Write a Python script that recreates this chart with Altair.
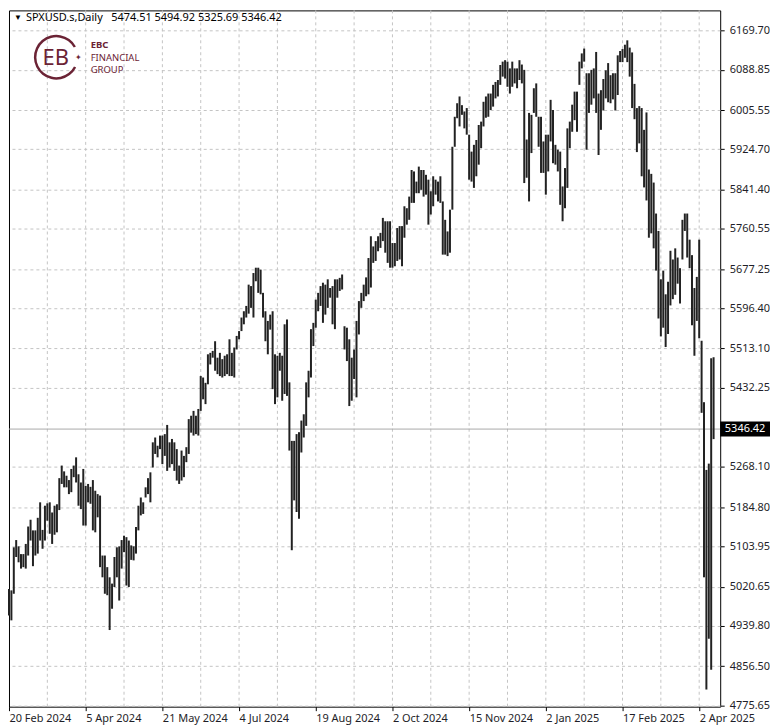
import altair as alt
import pandas as pd

# ---------------- data ----------------
highs = [
    5016, 5013, 5102, 5117, 5104, 5088, 5088, 5109, 5145, 5159,
    5137, 5137, 5163, 5195, 5138, 5188, 5193, 5195, 5174, 5188,
    5191, 5245, 5271, 5259, 5250, 5241, 5264, 5271, 5288, 5253,
    5236, 5264, 5229, 5233, 5227, 5241, 5219, 5212, 5209, 5085,
    5085, 5061, 5040, 5027, 5082, 5102, 5104, 5117, 5126, 5123,
    5116, 5106, 5104, 5144, 5188, 5205, 5195, 5226, 5245, 5257,
    5319, 5329, 5312, 5333, 5333, 5336, 5355, 5319, 5326, 5319,
    5305, 5271, 5302, 5291, 5309, 5367, 5374, 5384, 5374, 5388,
    5456, 5453, 5442, 5501, 5504, 5508, 5528, 5494, 5504, 5491,
    5498, 5501, 5532, 5504, 5515, 5539, 5549, 5577, 5590, 5601,
    5645, 5642, 5669, 5680, 5680, 5676, 5628, 5590, 5570, 5583,
    5590, 5501, 5498, 5504, 5498, 5563, 5573, 5443, 5322, 5322,
    5336, 5340, 5364, 5377, 5443, 5467, 5553, 5566, 5614, 5628,
    5642, 5649, 5645, 5656, 5638, 5642, 5656, 5656, 5659, 5666,
    5559, 5556, 5532, 5494, 5511, 5570, 5611, 5628, 5645, 5660,
    5700, 5745, 5724, 5735, 5745, 5752, 5783, 5776, 5776, 5776,
    5731, 5731, 5762, 5766, 5766, 5807, 5803, 5827, 5882, 5879,
    5858, 5889, 5882, 5882, 5872, 5862, 5838, 5869, 5862, 5858,
    5869, 5817, 5779, 5755, 5800, 5930, 5992, 6020, 6034, 6016,
    6003, 6010, 5955, 5920, 5934, 5944, 5975, 5982, 6023, 6034,
    6040, 6040, 6058, 6064, 6068, 6099, 6106, 6109, 6106, 6092,
    6106, 6092, 6092, 6109, 6100, 6089, 5945, 6000, 5996, 6051,
    6061, 5992, 5992, 5941, 5955, 5955, 6027, 6006, 5934, 5924,
    5920, 5848, 5886, 5968, 5982, 6017, 6044, 6044, 6106, 6123,
    6133, 6082, 6082, 6089, 6092, 6126, 6040, 6047, 6070, 6088,
    6103, 6078, 6082, 6082, 6119, 6128, 6132, 6141, 6150, 6135,
    6125, 6060, 6010, 6014, 6010, 5965, 6001, 5883, 5874, 5856,
    5792, 5756, 5656, 5674, 5625, 5651, 5715, 5697, 5720, 5701,
    5679, 5779, 5792, 5792, 5738, 5706, 5638, 5661, 5738, 5529,
    5402, 5262, 5275, 5493, 5494.92,
]
lows = [
    4961, 4951, 5006, 5082, 5071, 5058, 5061, 5058, 5085, 5116,
    5063, 5085, 5089, 5116, 5099, 5116, 5157, 5130, 5109, 5128,
    5133, 5179, 5233, 5226, 5226, 5212, 5216, 5247, 5236, 5188,
    5181, 5147, 5147, 5195, 5192, 5137, 5133, 5164, 5061, 5040,
    5006, 5003, 4931, 4975, 5020, 5040, 4992, 5058, 5092, 5023,
    5020, 5076, 5075, 5089, 5137, 5168, 5171, 5205, 5212, 5195,
    5267, 5295, 5288, 5305, 5274, 5291, 5260, 5267, 5274, 5260,
    5240, 5233, 5240, 5247, 5278, 5295, 5339, 5333, 5336, 5333,
    5384, 5408, 5398, 5439, 5480, 5494, 5467, 5460, 5456, 5453,
    5456, 5460, 5456, 5456, 5453, 5511, 5532, 5549, 5563, 5577,
    5585, 5597, 5577, 5652, 5628, 5625, 5577, 5528, 5501, 5552,
    5429, 5398, 5412, 5467, 5405, 5419, 5415, 5302, 5096, 5199,
    5175, 5161, 5298, 5329, 5353, 5412, 5453, 5518, 5556, 5590,
    5601, 5566, 5583, 5597, 5618, 5563, 5553, 5618, 5632, 5635,
    5511, 5487, 5394, 5405, 5450, 5412, 5542, 5597, 5611, 5621,
    5625, 5639, 5690, 5694, 5714, 5721, 5735, 5711, 5690, 5680,
    5680, 5683, 5694, 5697, 5683, 5742, 5769, 5779, 5814, 5814,
    5834, 5834, 5841, 5827, 5831, 5769, 5790, 5807, 5831, 5817,
    5814, 5707, 5707, 5704, 5711, 5800, 5930, 5989, 5972, 5996,
    5968, 5955, 5862, 5858, 5845, 5869, 5893, 5927, 5972, 5990,
    5992, 6006, 6013, 6030, 6034, 6058, 6075, 6071, 6054, 6040,
    6054, 6061, 6051, 6068, 6061, 5855, 5866, 5817, 5917, 6000,
    5992, 5930, 5876, 5876, 5831, 5879, 5941, 5896, 5893, 5879,
    5810, 5776, 5803, 5845, 5927, 5961, 5985, 5961, 6058, 6092,
    6106, 5924, 6000, 6017, 6030, 6000, 5913, 5965, 6005, 6030,
    6022, 6020, 6028, 6005, 6037, 6105, 6105, 6114, 6105, 6075,
    6010, 5987, 5919, 5937, 5869, 5846, 5819, 5742, 5751, 5720,
    5674, 5575, 5538, 5556, 5516, 5543, 5602, 5615, 5624, 5647,
    5606, 5697, 5756, 5701, 5679, 5561, 5498, 5570, 5534, 5380,
    5040, 4808, 4913, 4849, 5325.69,
]

last_ohlc = [5474.51, 5494.92, 5325.69, 5346.42]
symbol = "SPXUSD.s,Daily"

x_tick_idx = [0, 32, 64, 96, 128, 160, 192, 224, 256, 288]
x_tick_labels = ["20 Feb 2024", "5 Apr 2024", "21 May 2024", "4 Jul 2024",
                 "19 Aug 2024", "2 Oct 2024", "15 Nov 2024", "2 Jan 2025",
                 "17 Feb 2025", "2 Apr 2025"]
x_grid_idx = [16, 32, 48, 64, 80, 96, 112, 128, 144, 160, 176, 192,
              208, 224, 240, 256, 272, 288]
y_ticks = [6169.70, 6088.85, 6005.55, 5924.70, 5841.40, 5760.55, 5677.25,
           5596.40, 5513.10, 5432.25, 5268.10, 5184.80, 5103.95, 5020.65,
           4939.80, 4856.50, 4775.65]

logo_lines = ["EBC", "FINANCIAL", "GROUP"]

# ---------------- styling ----------------
FONT = "Noto Sans"
TXT = "#1e1e28"
MAROON = "#6b2335"
W, H = 714, 699

bars = pd.DataFrame({"i": list(range(len(highs))), "high": highs, "low": lows})
xscale = alt.Scale(domain=[0, 296.76], nice=False, zero=False)
yscale = alt.Scale(domain=[4772.6, 6211.9], nice=False, zero=False)

label_expr = " : ".join(f"datum.value == {i} ? '{l}'" for i, l in zip(x_tick_idx, x_tick_labels)) + " : ''"


def x_axis():
    return alt.Axis(orient="bottom", values=x_tick_idx, labelExpr=label_expr, grid=False,
                    domain=False, ticks=True, tickSize=4, tickColor="black",
                    labelAlign="left", labelBaseline="top", labelPadding=2,
                    labelFont=FONT, labelFontSize=11, labelColor=TXT,
                    labelOverlap=False, labelFlush=False, title=None)


def y_axis():
    return alt.Axis(orient="right", values=y_ticks, format=".2f", grid=True,
                    gridDash=[3, 3], gridColor="#c4c4c4", domain=False, tickSize=4,
                    tickColor="black", labelPadding=5, labelFont=FONT, labelFontSize=11,
                    labelColor=TXT, labelOverlap=False, labelFlush=False, title=None)


vgrid = alt.Chart(pd.DataFrame({"g": x_grid_idx})).mark_rule(
    color="#c4c4c4", strokeDash=[3, 3], strokeWidth=1
).encode(x=alt.X("g:Q", scale=xscale, axis=x_axis()))

ohlc = alt.Chart(bars).mark_rule(color="#222222", strokeWidth=2).encode(
    x=alt.X("i:Q", scale=xscale, axis=x_axis()),
    y=alt.Y("low:Q", scale=yscale, axis=y_axis()),
    y2="high:Q",
)

cur = pd.DataFrame({"p": [last_ohlc[3]]})
price_line = alt.Chart(cur).mark_rule(color="#a8a8a8", strokeWidth=1).encode(
    y=alt.Y("p:Q", scale=yscale, axis=y_axis())
)
box = alt.Chart(cur).mark_point(
    shape="M-1,-0.3L1,-0.3L1,0.3L-1,0.3Z", size=2500, filled=True,
    color="black", opacity=1, strokeWidth=0
).encode(x=alt.value(739), y=alt.Y("p:Q", scale=yscale, axis=y_axis()))
box_text = alt.Chart(cur).mark_text(
    color="white", fontSize=11, font=FONT, align="center", baseline="middle"
).encode(x=alt.value(739), y=alt.Y("p:Q", scale=yscale, axis=y_axis()),
         text=alt.Text("p:Q", format=".2f"))

header_txt = symbol + "\u00a0\u00a0\u00a0" + " ".join(f"{v:.2f}" for v in last_ohlc)
one = pd.DataFrame({"t": [header_txt]})
tri = alt.Chart(one).mark_text(text="▼", fontSize=8, color="black", align="left",
                               baseline="middle").encode(x=alt.value(5), y=alt.value(8))
header = alt.Chart(one).mark_text(fontSize=11, font=FONT, color="black", align="left",
                                  baseline="middle").encode(
    x=alt.value(17), y=alt.value(8), text="t:N")

ring = alt.Chart(one).mark_arc(innerRadius=20, outerRadius=22.5, theta=2.05,
                               theta2=7.35, color=MAROON).encode(
    x=alt.value(47.5), y=alt.value(47))
eb = alt.Chart(one).mark_text(text="EB", fontSize=22, font=FONT, color=MAROON,
                              align="center", baseline="middle").encode(
    x=alt.value(47), y=alt.value(48))
star = alt.Chart(one).mark_text(text="✦", fontSize=8, color=MAROON,
                                align="center", baseline="middle").encode(
    x=alt.value(70), y=alt.value(48))

logo_layers = []
for txt, yy, wt in zip(logo_lines, [35, 47.5, 60], ["bold", "normal", "normal"]):
    logo_layers.append(
        alt.Chart(pd.DataFrame({"t": [txt]})).mark_text(
            fontSize=9.5, font=FONT, color=MAROON, fontWeight=wt,
            align="left", baseline="middle"
        ).encode(x=alt.value(82), y=alt.value(yy), text="t:N")
    )

chart = alt.layer(
    vgrid, price_line, ohlc, box, box_text, tri, header, ring, eb, star, *logo_layers
).properties(width=W, height=H, padding=0, background="white",
             autosize=alt.AutoSizeParams(type="pad")
).configure_view(stroke="black", strokeWidth=1)

chart.save("out.html", embed_options={"renderer": "svg", "actions": False})
